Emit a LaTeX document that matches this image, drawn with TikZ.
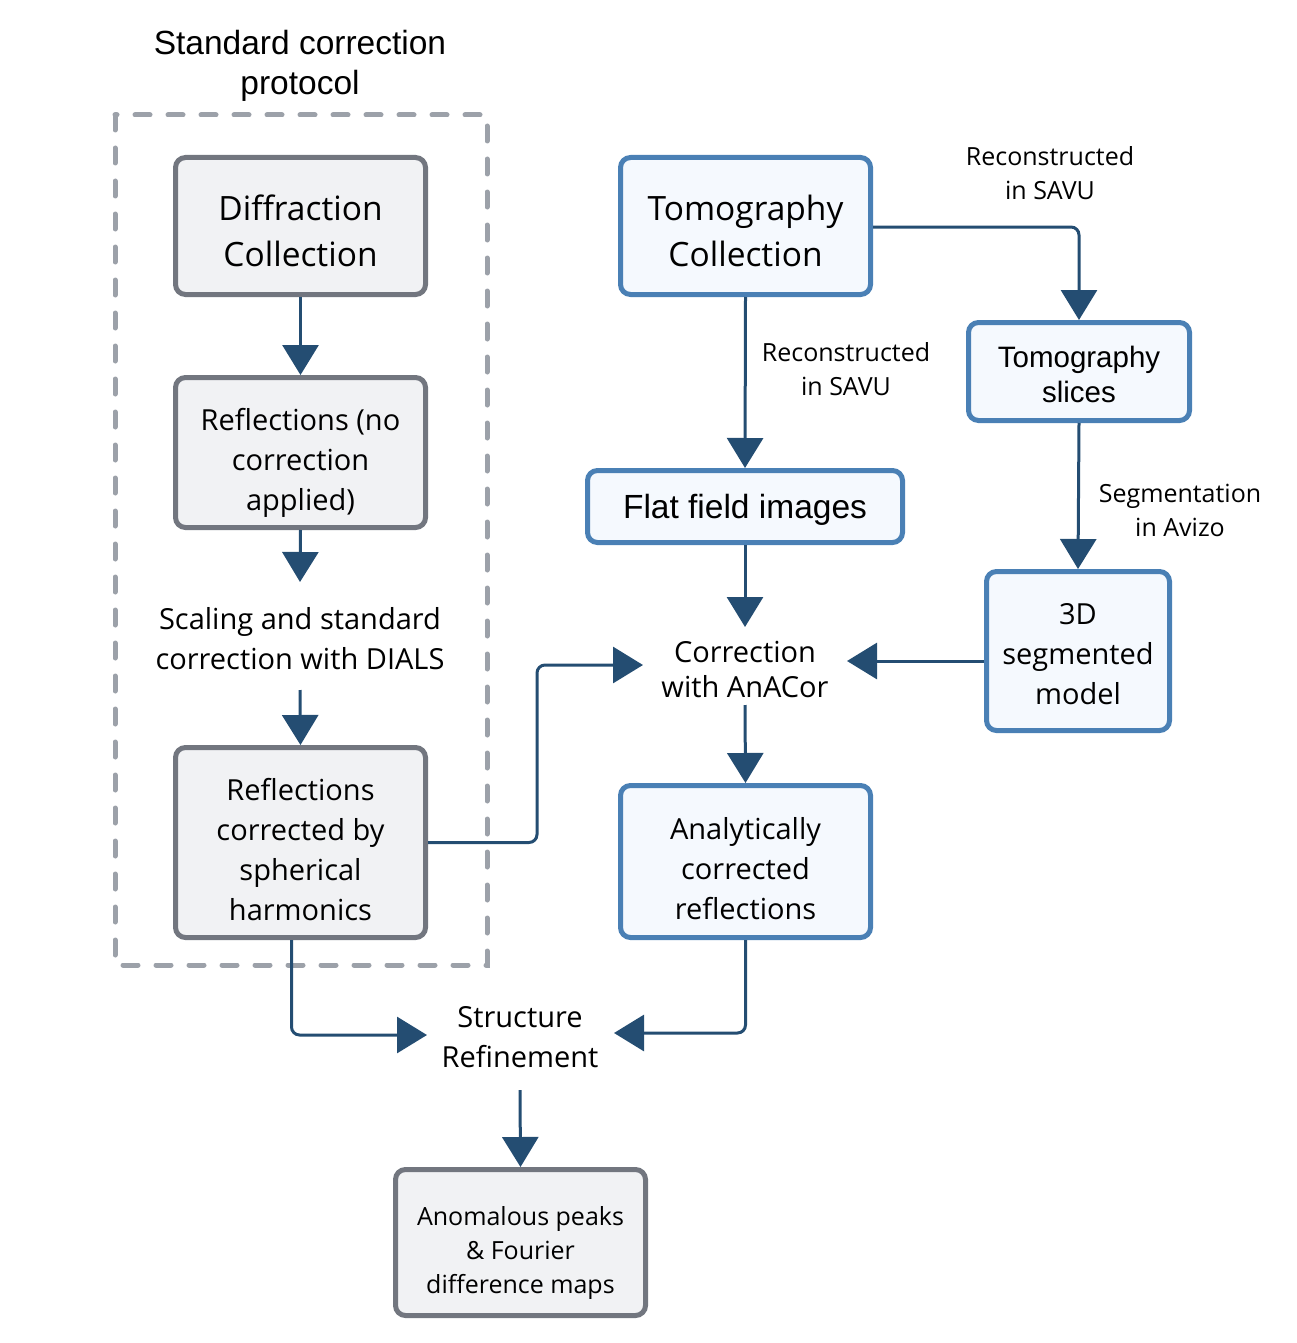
\documentclass[tikz,border=0pt]{standalone}
\usepackage{fontspec}
\setmainfont{Open Sans}
\newfontfamily\arialf{Liberation Sans}
\usetikzlibrary{arrows.meta,calc}
\definecolor{grayfill}{HTML}{F1F2F4}
\definecolor{grayline}{HTML}{72767F}
\definecolor{bluefill}{HTML}{F5F9FE}
\definecolor{blueline}{HTML}{4A80B5}
\definecolor{arrowc}{HTML}{244D72}
\definecolor{dashc}{HTML}{9CA1A9}
\newcommand{\fbig}{\fontsize{33.5}{46}\selectfont}
\newcommand{\fmid}{\fontsize{29}{40}\selectfont}
\newcommand{\fsml}{\fontsize{25}{34}\selectfont}
\newcommand{\dn}[1]{\rule{0pt}{#1}}
\begin{document}
\begin{tikzpicture}[x=1pt,y=-1pt,
  graybox/.style={draw=grayline, fill=grayfill, line width=5pt, rounded corners=10pt, align=center, inner sep=0pt},
  bluebox/.style={draw=blueline, fill=bluefill, line width=5pt, rounded corners=10pt, align=center, inner sep=0pt},
  plain/.style={align=center, inner sep=0pt},
  arr/.style={draw=arrowc, line width=3pt, rounded corners=8pt, -{Triangle[length=30pt,width=36pt]}},
  dashbox/.style={draw=dashc, line width=5pt, line cap=round, dash pattern=on 15pt off 18pt}]
\useasboundingbox (0,0) rectangle (1296,1343);

% title and dashed frame
\node[plain, font=\arialf\fontsize{33.5}{40}\selectfont] (title) at (300,66) {Standard correction\\protocol};
\draw[dashbox] (115,115) rectangle (487,965);

% left column
\node[graybox, minimum width=250, minimum height=137, font=\fbig] (diff) at (300.5,226) {\dn{35.5pt}Diffraction\\Collection};
\node[graybox, minimum width=250, minimum height=150, font=\fmid] (refl1) at (300.5,452.5) {\dn{42pt}Reflections (no\\correction\\applied)};
\node[plain, font=\fmid] (scal) at (300,639) {Scaling and standard\\correction with DIALS};
\node[graybox, minimum width=250, minimum height=190, font=\fmid] (refl2) at (300.5,842.5) {\dn{36pt}Reflections\\corrected by\\spherical\\harmonics};

% bottom
\node[plain, font=\fmid] (struct) at (520,1037) {Structure\\Refinement};
\node[graybox, minimum width=250, minimum height=146, font=\fsml] (anom) at (520.5,1242.5) {\dn{39pt}Anomalous peaks\\\& Fourier\\difference maps};

% right part
\node[bluebox, minimum width=250, minimum height=137, font=\fbig] (tomo) at (745.5,226) {\dn{35.5pt}Tomography\\Collection};
\node[bluebox, minimum width=221, minimum height=98, font=\arialf\fontsize{29.5}{35}\selectfont] (slices) at (1079,371.5) {\dn{27.5pt}Tomography\\slices};
\node[bluebox, minimum width=315, minimum height=72, font=\arialf\fontsize{33.5}{40}\selectfont] (flat) at (745,506.5) {\dn{30.5pt}Flat field images};
\node[bluebox, minimum width=183, minimum height=159, font=\fmid] (seg) at (1078,651) {\dn{27pt}3D\\segmented\\model};
\node[plain, font=\fontsize{29}{35}\selectfont] (corr) at (745,669) {Correction\\with AnACor};
\node[bluebox, minimum width=250, minimum height=152, font=\fmid] (anal) at (745.5,861.5) {\dn{36pt}Analytically\\corrected\\reflections};

% labels
\node[plain, font=\fsml] (lab1) at (1050,173) {Reconstructed\\in SAVU};
\node[plain, font=\fsml] (lab2) at (846,369) {Reconstructed\\in SAVU};
\node[plain, font=\fsml] (lab3) at (1180,510) {Segmentation\\in Avizo};

% connectors
\draw[arr] (diff.south) -- (refl1.north);
\draw[arr] (refl1.south) -- ($(scal.center)+(0,-57)$);
\draw[arr] ($(scal.center)+(0,51)$) -- (refl2.north);
\draw[arr] (refl2.east) -- ++(109,0) |- ($(corr.center)+(-102,-4)$);
\draw[arr] ([xshift=-9pt]refl2.south) |- ($(struct.center)+(-93,-2)$);
\draw[arr] (anal.south) |- ($(struct.center)+(94,-4)$);
\draw[arr] ($(struct.center)+(0,53)$) -- (anom.north);
\draw[arr] ([yshift=-1pt]tomo.east) -| (slices.north);
\draw[arr] (tomo.south) -- (flat.north);
\draw[arr] (slices.south) -- (seg.north);
\draw[arr] ([yshift=-10pt]seg.west) -- ($(corr.center)+(102,-8)$);
\draw[arr] (flat.south) -- ($(corr.center)+(0,-42)$);
\draw[arr] ($(corr.center)+(0,36)$) -- (anal.north);
\end{tikzpicture}
\end{document}
